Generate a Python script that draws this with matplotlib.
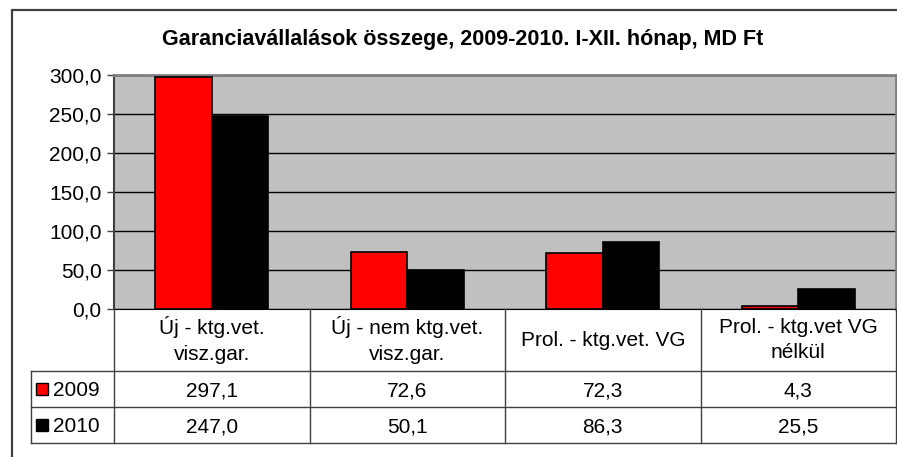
import matplotlib.pyplot as plt
from matplotlib.patches import Rectangle
from matplotlib.ticker import FuncFormatter
from matplotlib.transforms import blended_transform_factory

plt.rcParams['font.family'] = ['Liberation Sans', 'DejaVu Sans']

categories = ["Új - ktg.vet.\nvisz.gar.", "Új - nem ktg.vet.\nvisz.gar.",
              "Prol. - ktg.vet. VG", "Prol. - ktg.vet VG\nnélkül"]
years = ["2009", "2010"]
values_2009 = [297.1, 72.6, 72.3, 4.3]
values_2010 = [247.0, 50.1, 86.3, 25.5]
colors = ["#ff0000", "#000000"]
yticks = [0, 50, 100, 150, 200, 250, 300]


def hu(v):
    return f"{v:.1f}".replace(".", ",")


W, H = 897, 457
fig = plt.figure(figsize=(W / 100, H / 100), dpi=100)

# outer chart frame
fig.patches.append(Rectangle((12 / W, -0.1), 1.2, 1 - 10 / H + 0.1, transform=fig.transFigure,
                             fill=False, edgecolor="#404040", linewidth=1.6))

left, right, top, bottom = 114, 896, 75, 309
pw, ph = right - left, bottom - top
ax = fig.add_axes([left / W, 1 - bottom / H, pw / W, ph / H])
ax.set_facecolor("#c0c0c0")

x = list(range(len(categories)))
bw = 0.288
series = [values_2009, values_2010]
for i, vals in enumerate(series):
    offs = [xi + (i - 0.5) * bw for xi in x]
    ax.bar(offs, vals, width=bw, color=colors[i], edgecolor="black", linewidth=1.2, zorder=3)

ax.set_xlim(-0.5, len(categories) - 0.5)
ax.set_ylim(0, 300)
ax.set_yticks(yticks)
ax.yaxis.set_major_formatter(FuncFormatter(lambda v, p: hu(v)))
ax.tick_params(axis="y", direction="out", length=5, width=1, color="#404040",
               labelsize=15, pad=4)
ax.set_xticks([])
ax.grid(axis="y", color="black", linewidth=1)
ax.set_axisbelow(True)
for s in ["top", "right"]:
    ax.spines[s].set_color("#808080")
    ax.spines[s].set_linewidth(2)
ax.spines["left"].set_color("#404040")
ax.spines["left"].set_linewidth(1.5)
ax.spines["bottom"].set_color("black")

# data table below the axis: x in data units, y in axes units
tr = blended_transform_factory(ax.transData, ax.transAxes)
hdr_h, row_h = 62 / ph, 36 / ph
tbl_bot = -(hdr_h + len(series) * row_h)
lab_left = (31 - left) / pw
line_kw = dict(color="#404040", linewidth=1, clip_on=False, zorder=4)

bounds = [xi - 0.5 for xi in x] + [x[-1] + 0.5]
for b in bounds:
    ax.plot([b, b], [0, tbl_bot], transform=tr, **line_kw)
ax.plot([lab_left, lab_left], [-hdr_h, tbl_bot], transform=ax.transAxes, **line_kw)
for k in range(len(series) + 1):
    yy = -hdr_h - k * row_h
    ax.plot([lab_left, 1], [yy, yy], transform=ax.transAxes, **line_kw)

for xi, cat in zip(x, categories):
    ax.text(xi, -hdr_h / 2, cat, transform=tr, ha="center", va="center",
            fontsize=15, linespacing=1.45)

for k, (yr, vals) in enumerate(zip(years, series)):
    yc = -hdr_h - (k + 0.5) * row_h
    for xi, v in zip(x, vals):
        ax.text(xi, yc, hu(v), transform=tr, ha="center", va="center_baseline", fontsize=15)
    ax.text((53 - left) / pw, yc, yr, transform=ax.transAxes, ha="left",
            va="center_baseline", fontsize=15)
    ax.plot([(42 - left) / pw], [yc], marker="s", markersize=9,
            markerfacecolor=colors[k], markeredgecolor="black", markeredgewidth=1,
            transform=ax.transAxes, clip_on=False, zorder=5)

fig.text(463 / W, 1 - 40 / H, "Garanciavállalások összege, 2009-2010. I-XII. hónap, MD Ft",
         ha="center", va="center", fontsize=15.5, fontweight="bold")

fig.savefig("out.png", dpi=100)
